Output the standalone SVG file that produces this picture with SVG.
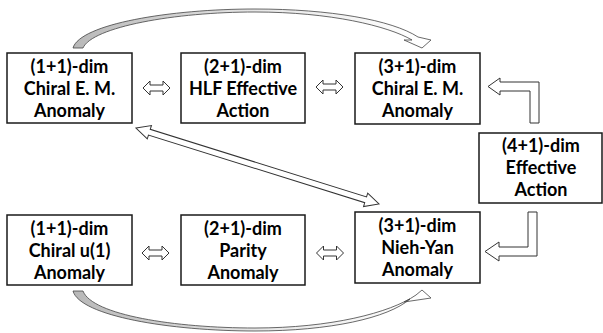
<svg xmlns="http://www.w3.org/2000/svg" width="603" height="333" viewBox="0 0 603 333">
<style>
.box{fill:#fff;stroke:#1a1a1a;stroke-width:1.5}
.t{font-family:Lato,"Liberation Sans",sans-serif;font-size:18px;font-weight:bold;fill:#000;text-anchor:middle}
.ar{fill:#fff;stroke:#333;stroke-width:1}
.cv{stroke:#444;stroke-width:0.8}
</style>
<defs>
<path id="dbl" d="M -13.5 0 L -6.5 -7 L -6.5 -3 L 6.5 -3 L 6.5 -7 L 13.5 0 L 6.5 7 L 6.5 3 L -6.5 3 L -6.5 7 Z"/>
<linearGradient id="gT" x1="73" y1="0" x2="420" y2="0" gradientUnits="userSpaceOnUse">
<stop offset="0" stop-color="#b8b8b8"/><stop offset="0.55" stop-color="#e8e8e8"/><stop offset="1" stop-color="#ffffff"/>
</linearGradient>
</defs>
<g id="connectors">
<path class="cv" fill="url(#gT)" d="M 73 48 C 80 24, 170 9, 255 9 C 330 9, 392 20, 418 37 L 431 40 L 422 48 L 404 40 L 412 40 C 388 26, 330 12, 255 12 C 175 12, 92 27, 83 48 Z"/>
<path class="cv" fill="url(#gT)" d="M 73 291 C 80 316, 170 331, 255 331 C 330 331, 388 318, 410 299 L 404 302 L 431 298 L 422 290 L 416 295 C 390 313, 330 328, 255 328 C 175 328, 92 315, 83 291 Z"/>
<use href="#dbl" class="ar" x="156.5" y="88"/>
<use href="#dbl" class="ar" x="329.5" y="87"/>
<use href="#dbl" class="ar" x="155.5" y="253"/>
<use href="#dbl" class="ar" x="330" y="253"/>
<path class="ar" transform="translate(136,128) rotate(17.37)" d="M 0 0 L 14 -7 L 14 -3 L 240.6 -3 L 240.6 -7 L 254.6 0 L 240.6 7 L 240.6 3 L 14 3 L 14 7 Z"/>
<path class="ar" d="M 539 123 L 539 82 L 500 82 L 500 78 L 488 86.5 L 500 95 L 500 91 L 530 91 L 530 123 Z"/>
<path class="ar" d="M 528 212 L 537 212 L 537 256 L 499 256 L 499 261 L 485 251.5 L 499 242 L 499 247 L 528 247 Z"/>
</g>
<g id="n1"><rect class="box" x="7" y="53" width="125" height="70"/>
<text class="t" x="69.5" y="73">(1+1)-dim</text><text class="t" x="69.5" y="95">Chiral E. M.</text><text class="t" x="69.5" y="117">Anomaly</text></g>
<g id="n2"><rect class="box" x="181" y="53" width="124" height="70"/>
<text class="t" x="243" y="73">(2+1)-dim</text><text class="t" x="243" y="95">HLF Effective</text><text class="t" x="243" y="117">Action</text></g>
<g id="n3"><rect class="box" x="355" y="53" width="125" height="71"/>
<text class="t" x="417.5" y="73">(3+1)-dim</text><text class="t" x="417.5" y="95">Chiral E. M.</text><text class="t" x="417.5" y="117">Anomaly</text></g>
<g id="n4"><rect class="box" x="479" y="133" width="123" height="70"/>
<text class="t" x="541" y="152">(4+1)-dim</text><text class="t" x="541" y="174">Effective</text><text class="t" x="541" y="196">Action</text></g>
<g id="n5"><rect class="box" x="7" y="215" width="125" height="70"/>
<text class="t" x="69.5" y="235">(1+1)-dim</text><text class="t" x="69.5" y="257">Chiral u(1)</text><text class="t" x="69.5" y="279">Anomaly</text></g>
<g id="n6"><rect class="box" x="181" y="215" width="124" height="70"/>
<text class="t" x="243" y="235">(2+1)-dim</text><text class="t" x="243" y="257">Parity</text><text class="t" x="243" y="279">Anomaly</text></g>
<g id="n7"><rect class="box" x="355" y="212" width="125" height="71"/>
<text class="t" x="417.5" y="232">(3+1)-dim</text><text class="t" x="417.5" y="254">Nieh-Yan</text><text class="t" x="417.5" y="276">Anomaly</text></g>
</svg>
